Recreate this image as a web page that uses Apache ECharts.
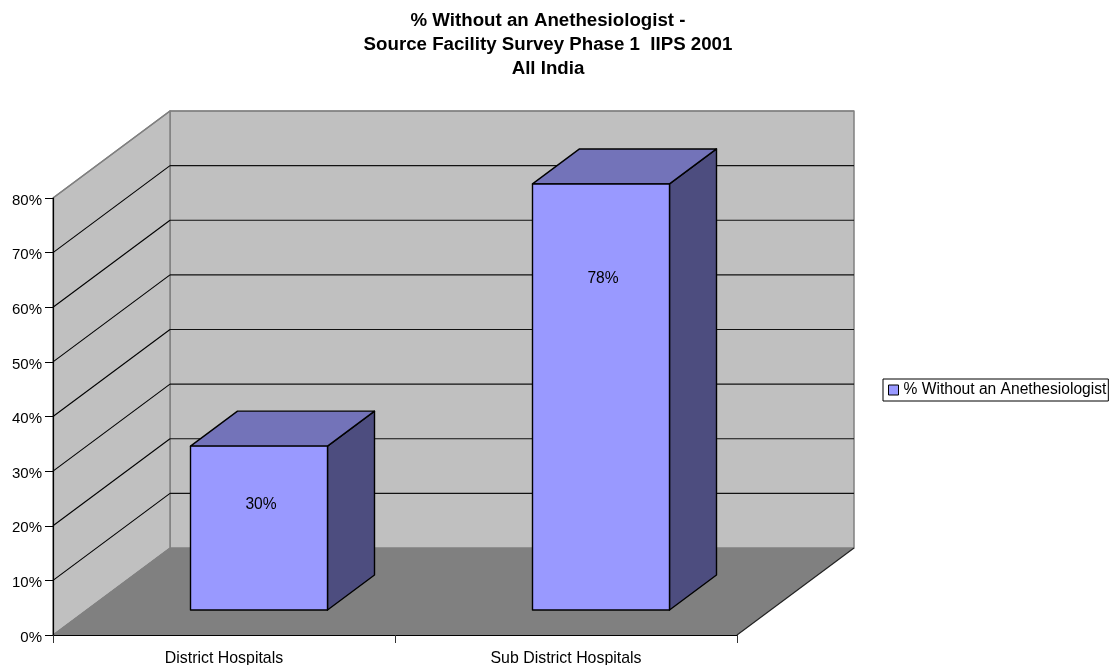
<!DOCTYPE html>
<html>
<head>
<meta charset="utf-8">
<style>html,body{margin:0;padding:0;background:#fff}#chart{width:1111px;height:665px}</style>
<script src="https://cdn.jsdelivr.net/npm/echarts@6/dist/echarts.min.js"></script>
</head>
<body>
<div id="chart"></div>
<script>
const categories = ['District Hospitals', 'Sub District Hospitals'];
const seriesName = '% Without an Anethesiologist';
const withoutAnesthesiologist = [30, 78];
const gridValues = [10, 20, 30, 40, 50, 60, 70, 80];

// Oblique projection of the 3D box: how far the back plane and the bars sit from the front plane.
const DEPTH = { x: 117, y: -87 };
const BAR_OFFSET = { x: 35, y: -25 };
const BAR_DEPTH = { x: 47, y: -35 };
const BAR_WIDTH = 137;

const FONT = '"Liberation Sans", Arial, sans-serif';
const WALL = '#c0c0c0', FLOOR = '#808080', EDGE = '#808080';

function poly(points, fill, stroke, lineWidth) {
  return {
    type: 'polygon',
    shape: { points },
    style: { fill, stroke: stroke || 'none', lineWidth: lineWidth || 0, lineJoin: 'round' }
  };
}

function seg(a, b, stroke, lineWidth) {
  return {
    type: 'line',
    shape: { x1: a[0], y1: a[1], x2: b[0], y2: b[1] },
    style: { stroke, lineWidth: lineWidth || 1 }
  };
}

// Side wall, back wall and floor of the box.
function renderShell(params) {
  const c = params.coordSys;
  const l = c.x, r = c.x + c.width, t = c.y, b = c.y + c.height;
  const dx = DEPTH.x, dy = DEPTH.y;
  return {
    type: 'group',
    children: [
      poly([[l + dx, t + dy], [r + dx, t + dy], [r + dx, b + dy], [l + dx, b + dy]], WALL, EDGE, 1.5),
      poly([[l, t], [l + dx, t + dy], [l + dx, b + dy], [l, b]], WALL, EDGE, 1.5),
      poly([[l, b], [l + dx, b + dy], [r + dx, b + dy], [r, b]], FLOOR),
      seg([l, b], [l + dx, b + dy], EDGE, 1),
      seg([r, b], [r + dx, b + dy], '#222', 1.2)
    ]
  };
}

// One horizontal grid line, bent along the side wall and the back wall.
function renderGridLine(params, api) {
  const c = params.coordSys;
  const v = api.value(0);
  const y = api.coord([0, v])[1];
  const l = c.x, r = c.x + c.width;
  const top = v === gridValues[gridValues.length - 1];
  return {
    type: 'group',
    children: [
      seg([l, y], [l + DEPTH.x, y + DEPTH.y], top ? EDGE : '#000', top ? 1.5 : 1.1),
      seg([l + DEPTH.x, y + DEPTH.y], [r + DEPTH.x, y + DEPTH.y], top ? EDGE : '#111', 1.2)
    ]
  };
}

// A bar as an oblique prism with its value label on the front face.
function renderBar(params, api) {
  const idx = api.value(0);
  const val = api.value(1);
  const top = api.coord([idx, val]);
  const base = api.coord([idx, 0]);
  const cx = top[0] + BAR_OFFSET.x;
  const x0 = cx - BAR_WIDTH / 2, x1 = cx + BAR_WIDTH / 2;
  const yTop = top[1] + BAR_OFFSET.y, yBase = base[1] + BAR_OFFSET.y;
  const dx = BAR_DEPTH.x, dy = BAR_DEPTH.y;
  const h = yBase - yTop;
  const stroke = '#000';
  return {
    type: 'group',
    children: [
      poly([[x1, yTop], [x1 + dx, yTop + dy], [x1 + dx, yBase + dy], [x1, yBase]], '#4d4d7f', stroke, 1.4),
      poly([[x0, yTop], [x0 + dx, yTop + dy], [x1 + dx, yTop + dy], [x1, yTop]], '#7373b9', stroke, 1.4),
      poly([[x0, yTop], [x1, yTop], [x1, yBase], [x0, yBase]], '#9999ff', stroke, 1.4),
      {
        type: 'text',
        style: {
          x: cx + 2,
          y: yTop + 36 + 0.137 * h,
          text: val + '%',
          fill: '#000',
          font: '15.6px ' + FONT,
          align: 'center',
          verticalAlign: 'middle'
        }
      }
    ]
  };
}

const chart = echarts.init(document.getElementById('chart'), null, { renderer: 'canvas' });
chart.setOption({
  animation: false,
  backgroundColor: '#fff',
  title: {
    text: '% Without an Anethesiologist -\nSource Facility Survey Phase 1  IIPS 2001\nAll India',
    left: 543,
    top: 4,
    textAlign: 'center',
    textStyle: { fontFamily: FONT, fontSize: 18.7, fontWeight: 'bold', color: '#000', lineHeight: 24 }
  },
  legend: {
    data: [{ name: seriesName, icon: 'rect' }],
    left: 883,
    top: 379,
    orient: 'vertical',
    padding: [3, 2, 3, 5],
    itemWidth: 10,
    itemHeight: 10,
    itemGap: 0,
    borderColor: '#000',
    borderWidth: 1,
    backgroundColor: '#fff',
    selectedMode: false,
    itemStyle: { color: '#9999ff', borderColor: '#000', borderWidth: 1 },
    textStyle: { fontFamily: FONT, fontSize: 15.6, color: '#000', padding: [1, 0, 0, 0] }
  },
  grid: { left: 53, top: 198, width: 684, height: 437, containLabel: false, outerBoundsMode: 'none' },
  xAxis: {
    type: 'category',
    data: categories,
    boundaryGap: true,
    z: 5,
    axisLine: { lineStyle: { color: '#000', width: 1.2 } },
    axisTick: { show: true, length: 8, alignWithLabel: false, lineStyle: { color: '#333' } },
    axisLabel: { color: '#000', fontFamily: FONT, fontSize: 15.9, margin: 16 },
    splitLine: { show: false }
  },
  yAxis: {
    type: 'value',
    min: 0,
    max: 80,
    interval: 10,
    z: 5,
    axisLine: { show: true, lineStyle: { color: '#000', width: 1.2 } },
    axisTick: { show: true, length: 8, lineStyle: { color: '#000' } },
    axisLabel: { color: '#000', fontFamily: FONT, fontSize: 15, margin: 11, verticalAlign: 'top', lineHeight: 5, formatter: '{value}%' },
    splitLine: { show: false }
  },
  series: [
    {
      type: 'custom',
      name: 'shell',
      coordinateSystem: 'cartesian2d',
      silent: true,
      z: 1,
      renderItem: renderShell,
      data: [[0, 0]],
      encode: { x: 0, y: 1 },
      clip: false
    },
    {
      type: 'custom',
      name: 'gridlines',
      coordinateSystem: 'cartesian2d',
      silent: true,
      z: 2,
      renderItem: renderGridLine,
      data: gridValues.map(v => [v]),
      encode: { y: 0 },
      clip: false
    },
    {
      type: 'custom',
      name: seriesName,
      coordinateSystem: 'cartesian2d',
      silent: true,
      z: 3,
      itemStyle: { color: '#9999ff' },
      renderItem: renderBar,
      data: withoutAnesthesiologist.map((v, i) => [i, v]),
      encode: { x: 0, y: 1 },
      clip: false
    }
  ]
});
</script>
</body>
</html>
